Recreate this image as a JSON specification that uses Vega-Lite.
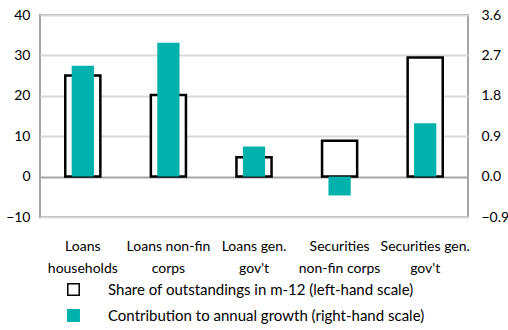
{
  "$schema": "https://vega.github.io/schema/vega-lite/v6.json",
  "autosize": {"type": "none"},
  "width": 428,
  "height": 202,
  "padding": {"left": 40, "top": 15, "right": 40, "bottom": 113},
  "background": "white",
  "config": {
    "font": "Lato",
    "view": {"stroke": "#A6A6A6", "strokeWidth": 2},
    "axis": {"labelFont": "Lato", "labelFontSize": 14, "labelColor": "#000"}
  },
  "data": {
    "values": [
      {"category": "Loans|households", "series": "Share of outstandings in m-12 (left-hand scale)", "value": 25.0},
      {"category": "Loans non-fin|corps", "series": "Share of outstandings in m-12 (left-hand scale)", "value": 20.2},
      {"category": "Loans gen.|gov't", "series": "Share of outstandings in m-12 (left-hand scale)", "value": 4.8},
      {"category": "Securities|non-fin corps", "series": "Share of outstandings in m-12 (left-hand scale)", "value": 8.9},
      {"category": "Securities gen.|gov't", "series": "Share of outstandings in m-12 (left-hand scale)", "value": 29.5},
      {"category": "Loans|households", "series": "Contribution to annual growth (right-hand scale)", "value": 2.47},
      {"category": "Loans non-fin|corps", "series": "Contribution to annual growth (right-hand scale)", "value": 2.98},
      {"category": "Loans gen.|gov't", "series": "Contribution to annual growth (right-hand scale)", "value": 0.67},
      {"category": "Securities|non-fin corps", "series": "Contribution to annual growth (right-hand scale)", "value": -0.42},
      {"category": "Securities gen.|gov't", "series": "Contribution to annual growth (right-hand scale)", "value": 1.19}
    ]
  },
  "encoding": {
    "x": {
      "field": "category",
      "type": "nominal",
      "sort": null,
      "scale": {"paddingInner": 0, "paddingOuter": 0},
      "axis": {
        "title": null,
        "labelAngle": 0,
        "labelExpr": "split(datum.value, '|')",
        "labelLineHeight": 22,
        "labelPadding": 22,
        "ticks": false,
        "domain": false,
        "labelBaseline": "top"
      }
    },
    "fill": {
      "field": "series",
      "type": "nominal",
      "scale": {
        "domain": ["Share of outstandings in m-12 (left-hand scale)", "Contribution to annual growth (right-hand scale)"],
        "range": ["white", "#00B1AC"]
      },
      "legend": {
        "title": null,
        "orient": "none",
        "legendX": 26,
        "legendY": 267,
        "direction": "vertical",
        "symbolType": "square",
        "symbolSize": 130,
        "symbolStrokeWidth": 1.5,
        "labelFontSize": 15,
        "labelFont": "Lato",
        "labelLimit": 0,
        "labelOffset": 27,
        "rowPadding": 7,
        "padding": 0
      }
    },
    "stroke": {
      "field": "series",
      "type": "nominal",
      "scale": {
        "domain": ["Share of outstandings in m-12 (left-hand scale)", "Contribution to annual growth (right-hand scale)"],
        "range": ["black", "#00B1AC"]
      },
      "legend": null
    }
  },
  "layer": [
    {
      "transform": [{"filter": "datum.series === 'Share of outstandings in m-12 (left-hand scale)'"}],
      "mark": {"type": "bar", "width": {"band": 0.41}, "strokeWidth": 2.5},
      "encoding": {
        "y": {
          "field": "value",
          "type": "quantitative",
          "scale": {"domain": [-10, 40], "nice": false, "zero": false},
          "axis": {
            "title": null,
            "values": [-10, 0, 10, 20, 30, 40],
            "ticks": false,
            "domain": false,
            "labelPadding": 10,
            "gridColor": {"condition": {"test": "datum.value === 0", "value": "#A6A6A6"}, "value": "#D9D9D9"},
            "gridWidth": 2
          }
        }
      }
    },
    {
      "transform": [{"filter": "datum.series === 'Contribution to annual growth (right-hand scale)'"}],
      "mark": {"type": "bar", "width": {"band": 0.26}, "strokeWidth": 0},
      "encoding": {
        "y": {
          "field": "value",
          "type": "quantitative",
          "scale": {"domain": [-0.9, 3.6], "nice": false, "zero": false},
          "axis": {
            "title": null,
            "orient": "right",
            "values": [-0.9, 0, 0.9, 1.8, 2.7, 3.6],
            "format": ".1f",
            "ticks": false,
            "domain": false,
            "grid": false,
            "labelPadding": 13
          }
        }
      }
    }
  ],
  "resolve": {"scale": {"y": "independent"}}
}
